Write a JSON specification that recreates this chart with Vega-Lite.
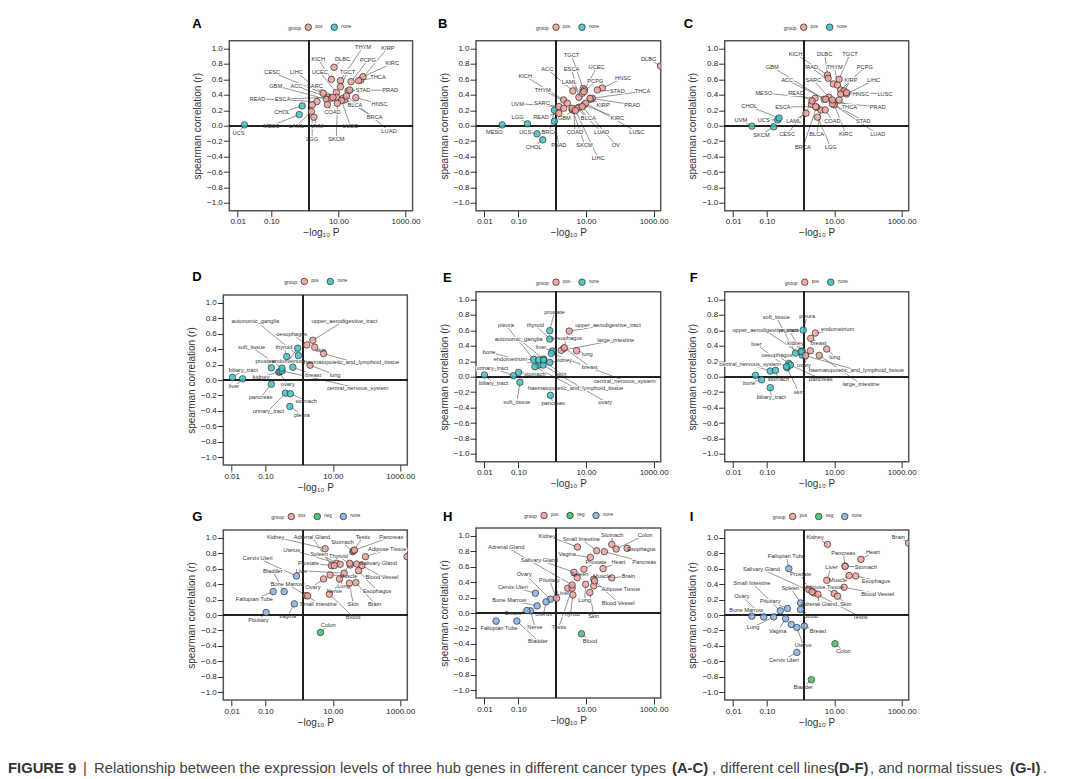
{
"$schema":"https://vega.github.io/schema/vega-lite/v6.json",
"background":"white",
"autosize":"none",
"padding":{"left":223.3,"top":40.7,"right":856.7,"bottom":738.3},
"datasets":{
"A":[
{"label":"UCS","x":0.0158,"r":0.01,"lx":0.0105,"ly":-0.09,"group":"none"},
{"label":"MESO","x":0.68,"r":0.144,"lx":0.102,"ly":0,"group":"none"},
{"label":"CHOL","x":0.83,"r":0.256,"lx":0.21,"ly":0.174,"group":"none"},
{"label":"KICH","x":6.2,"r":0.6,"lx":2.5,"ly":0.862,"group":"pos"},
{"label":"DLBC","x":7.4,"r":0.755,"lx":13.2,"ly":0.862,"group":"pos"},
{"label":"THYM","x":11.5,"r":0.583,"lx":54,"ly":1.02,"group":"pos"},
{"label":"KIRP","x":46,"r":0.59,"lx":299,"ly":1.01,"group":"pos"},
{"label":"PCPG","x":23.8,"r":0.57,"lx":76,"ly":0.85,"group":"pos"},
{"label":"KIRC","x":54,"r":0.634,"lx":400,"ly":0.806,"group":"pos"},
{"label":"TGCT","x":11.5,"r":0.505,"lx":18.5,"ly":0.69,"group":"pos"},
{"label":"UCEC","x":8.7,"r":0.428,"lx":2.8,"ly":0.695,"group":"pos"},
{"label":"THCA","x":40,"r":0.583,"lx":151,"ly":0.626,"group":"pos"},
{"label":"CESC","x":3.5,"r":0.42,"lx":0.107,"ly":0.69,"group":"pos"},
{"label":"LIHC","x":4.9,"r":0.368,"lx":0.56,"ly":0.69,"group":"pos"},
{"label":"GBM","x":4.4,"r":0.342,"lx":0.135,"ly":0.518,"group":"pos"},
{"label":"ACC","x":6.2,"r":0.355,"lx":0.56,"ly":0.51,"group":"pos"},
{"label":"SARC","x":8.7,"r":0.368,"lx":2,"ly":0.51,"group":"pos"},
{"label":"STAD","x":19.4,"r":0.45,"lx":54,"ly":0.458,"group":"pos"},
{"label":"PRAD","x":21.8,"r":0.462,"lx":349,"ly":0.458,"group":"pos"},
{"label":"READ","x":2.3,"r":0.312,"lx":0.039,"ly":0.35,"group":"pos"},
{"label":"ESCA","x":6.9,"r":0.368,"lx":0.22,"ly":0.346,"group":"pos"},
{"label":"HNSC","x":33,"r":0.363,"lx":169,"ly":0.282,"group":"pos"},
{"label":"BLCA","x":13.8,"r":0.355,"lx":31,"ly":0.27,"group":"pos"},
{"label":"BRCA","x":15.4,"r":0.333,"lx":120,"ly":0.11,"group":"pos"},
{"label":"LUAD","x":17.3,"r":0.385,"lx":320,"ly":-0.067,"group":"pos"},
{"label":"COAD","x":4.7,"r":0.273,"lx":6.6,"ly":0.174,"group":"pos"},
{"label":"LUSC","x":12.3,"r":0.325,"lx":22.7,"ly":0,"group":"pos"},
{"label":"SKCM","x":9.3,"r":0.29,"lx":8.7,"ly":-0.174,"group":"pos"},
{"label":"LGG","x":1.65,"r":0.269,"lx":1.65,"ly":-0.174,"group":"pos"},
{"label":"LAML","x":1.58,"r":0.183,"lx":0.56,"ly":0,"group":"pos"},
{"label":"UVM","x":1.85,"r":0.11,"lx":2.3,"ly":0,"group":"pos"}
],
"B":[
{"label":"MESO","x":0.0335,"r":0.01,"lx":0.0195,"ly":-0.084,"group":"none"},
{"label":"LGG","x":0.186,"r":0.024,"lx":0.095,"ly":0.118,"group":"none"},
{"label":"UCS","x":0.358,"r":-0.105,"lx":0.16,"ly":-0.08,"group":"none"},
{"label":"CHOL","x":0.53,"r":-0.183,"lx":0.285,"ly":-0.273,"group":"none"},
{"label":"PAAD","x":1.17,"r":0.058,"lx":1.58,"ly":-0.252,"group":"none"},
{"label":"BRCA","x":1.17,"r":0.2,"lx":0.83,"ly":-0.08,"group":"none"},
{"label":"DLBC","x":1600,"r":0.772,"lx":710,"ly":0.867,"group":"pos"},
{"label":"TGCT","x":8.3,"r":0.48,"lx":3.75,"ly":0.91,"group":"pos"},
{"label":"ACC","x":4.1,"r":0.45,"lx":0.72,"ly":0.733,"group":"pos"},
{"label":"ESCA","x":6.2,"r":0.368,"lx":3.75,"ly":0.733,"group":"pos"},
{"label":"UCEC","x":9.1,"r":0.462,"lx":20.7,"ly":0.755,"group":"pos"},
{"label":"LAML","x":7.8,"r":0.42,"lx":3.2,"ly":0.561,"group":"pos"},
{"label":"PCPG","x":8.7,"r":0.44,"lx":19,"ly":0.574,"group":"pos"},
{"label":"HNSC","x":30.5,"r":0.488,"lx":126,"ly":0.617,"group":"pos"},
{"label":"STAD","x":21.8,"r":0.462,"lx":85,"ly":0.445,"group":"pos"},
{"label":"THCA","x":15.4,"r":0.355,"lx":470,"ly":0.445,"group":"pos"},
{"label":"KICH","x":2.2,"r":0.333,"lx":0.16,"ly":0.639,"group":"pos"},
{"label":"THYM","x":2.8,"r":0.29,"lx":0.53,"ly":0.467,"group":"pos"},
{"label":"UVM","x":1.58,"r":0.247,"lx":0.095,"ly":0.286,"group":"pos"},
{"label":"SARC","x":2.2,"r":0.226,"lx":0.5,"ly":0.29,"group":"pos"},
{"label":"KIRP","x":13.8,"r":0.342,"lx":32,"ly":0.273,"group":"pos"},
{"label":"PRAD","x":13.2,"r":0.355,"lx":233,"ly":0.273,"group":"pos"},
{"label":"READ","x":1.58,"r":0.161,"lx":0.47,"ly":0.114,"group":"pos"},
{"label":"GBM","x":3.9,"r":0.204,"lx":2.3,"ly":0.105,"group":"pos"},
{"label":"KIRC","x":8.7,"r":0.269,"lx":85,"ly":0.101,"group":"pos"},
{"label":"LUSC","x":9.8,"r":0.29,"lx":320,"ly":-0.08,"group":"pos"},
{"label":"BLCA","x":6.2,"r":0.239,"lx":11.7,"ly":0.097,"group":"pos"},
{"label":"COAD","x":4.4,"r":0.204,"lx":4.7,"ly":-0.08,"group":"pos"},
{"label":"LUAD","x":5.5,"r":0.226,"lx":29,"ly":-0.08,"group":"pos"},
{"label":"OV","x":7.8,"r":0.247,"lx":76,"ly":-0.247,"group":"pos"},
{"label":"SKCM","x":3.9,"r":0.226,"lx":9.1,"ly":-0.247,"group":"pos"},
{"label":"LIHC","x":4.9,"r":0.196,"lx":23,"ly":-0.424,"group":"pos"}
],
"C":[
{"label":"UVM","x":0.036,"r":-0.006,"lx":0.017,"ly":0.075,"group":"none"},
{"label":"SKCM","x":0.16,"r":-0.015,"lx":0.069,"ly":-0.114,"group":"none"},
{"label":"UCS","x":0.21,"r":0.075,"lx":0.081,"ly":0.075,"group":"none"},
{"label":"CHOL","x":0.23,"r":0.1,"lx":0.03,"ly":0.252,"group":"none"},
{"label":"LAML","x":1.45,"r":0.161,"lx":0.63,"ly":0.067,"group":"pos"},
{"label":"CESC","x":2.1,"r":0.277,"lx":0.4,"ly":-0.11,"group":"pos"},
{"label":"BLCA","x":4,"r":0.204,"lx":3,"ly":-0.11,"group":"pos"},
{"label":"BRCA","x":3,"r":0.239,"lx":1.17,"ly":-0.282,"group":"pos"},
{"label":"LGG","x":3.2,"r":0.11,"lx":7.9,"ly":-0.282,"group":"pos"},
{"label":"KICH","x":6.3,"r":0.656,"lx":0.71,"ly":0.93,"group":"pos"},
{"label":"DLBC","x":6.6,"r":0.613,"lx":5.2,"ly":0.93,"group":"pos"},
{"label":"TGCT","x":13.9,"r":0.6,"lx":29.5,"ly":0.93,"group":"pos"},
{"label":"PAAD","x":9.4,"r":0.54,"lx":2,"ly":0.759,"group":"pos"},
{"label":"THYM","x":12.4,"r":0.527,"lx":10.3,"ly":0.759,"group":"pos"},
{"label":"PCPG","x":15.6,"r":0.462,"lx":81,"ly":0.759,"group":"pos"},
{"label":"GBM","x":5,"r":0.342,"lx":0.145,"ly":0.759,"group":"pos"},
{"label":"SARC","x":7,"r":0.368,"lx":2.4,"ly":0.587,"group":"pos"},
{"label":"ACC","x":5.6,"r":0.342,"lx":0.4,"ly":0.587,"group":"pos"},
{"label":"KIRP","x":19.6,"r":0.45,"lx":31,"ly":0.587,"group":"pos"},
{"label":"LIHC","x":23,"r":0.41,"lx":148,"ly":0.587,"group":"pos"},
{"label":"MESO","x":2.7,"r":0.355,"lx":0.081,"ly":0.424,"group":"pos"},
{"label":"READ","x":2.2,"r":0.32,"lx":0.74,"ly":0.419,"group":"pos"},
{"label":"HNSC","x":15.6,"r":0.41,"lx":62,"ly":0.415,"group":"pos"},
{"label":"LUSC","x":23,"r":0.428,"lx":320,"ly":0.415,"group":"pos"},
{"label":"ESCA","x":2.8,"r":0.247,"lx":0.3,"ly":0.243,"group":"pos"},
{"label":"PRAD","x":10,"r":0.3,"lx":195,"ly":0.243,"group":"pos"},
{"label":"THCA","x":13.9,"r":0.333,"lx":28,"ly":0.243,"group":"pos"},
{"label":"COAD","x":5.4,"r":0.204,"lx":8.8,"ly":0.067,"group":"pos"},
{"label":"STAD","x":10,"r":0.269,"lx":73,"ly":0.067,"group":"pos"},
{"label":"LUAD","x":8.8,"r":0.282,"lx":195,"ly":-0.11,"group":"pos"},
{"label":"KIRC","x":8.8,"r":0.333,"lx":22,"ly":-0.11,"group":"pos"}
],
"D":[
{"label":"biliary_tract","x":0.0105,"r":0.032,"lx":0.022,"ly":0.127,"group":"none"},
{"label":"liver","x":0.021,"r":0.015,"lx":0.0117,"ly":-0.084,"group":"none"},
{"label":"pancreas","x":0.15,"r":-0.054,"lx":0.072,"ly":-0.226,"group":"none"},
{"label":"urinary_tract","x":0.39,"r":-0.17,"lx":0.123,"ly":-0.398,"group":"none"},
{"label":"stomach","x":0.55,"r":-0.178,"lx":1.62,"ly":-0.269,"group":"none"},
{"label":"pleura","x":0.53,"r":-0.342,"lx":1.2,"ly":-0.449,"group":"none"},
{"label":"ovary","x":0.25,"r":0.101,"lx":0.46,"ly":-0.054,"group":"none"},
{"label":"kidney","x":0.27,"r":0.11,"lx":0.074,"ly":0.037,"group":"none"},
{"label":"central_nervous_system","x":0.31,"r":0.118,"lx":55,"ly":-0.105,"group":"none"},
{"label":"breast","x":0.65,"r":0.166,"lx":2.6,"ly":0.067,"group":"none"},
{"label":"prostate","x":0.15,"r":0.157,"lx":0.102,"ly":0.247,"group":"none"},
{"label":"soft_tissue","x":0.31,"r":0.153,"lx":0.039,"ly":0.424,"group":"none"},
{"label":"autonomic_ganglia","x":0.95,"r":0.316,"lx":0.05,"ly":0.768,"group":"none"},
{"label":"thyroid","x":0.43,"r":0.303,"lx":0.355,"ly":0.428,"group":"none"},
{"label":"endometrium","x":0.91,"r":0.411,"lx":0.48,"ly":0.247,"group":"none"},
{"label":"oesophagus","x":1.69,"r":0.454,"lx":0.6,"ly":0.6,"group":"pos"},
{"label":"upper_aerodigestive_tract","x":2.56,"r":0.514,"lx":22,"ly":0.768,"group":"pos"},
{"label":"haematopoietic_and_lymphoid_tissue","x":5.3,"r":0.342,"lx":36,"ly":0.239,"group":"pos"},
{"label":"skin","x":2.9,"r":0.424,"lx":4.4,"ly":0.39,"group":"pos"},
{"label":"lung","x":2.1,"r":0.191,"lx":11.7,"ly":0.067,"group":"pos"}
],
"E":[
{"label":"biliary_tract","x":0.01,"r":0.022,"lx":0.0186,"ly":-0.082,"group":"none"},
{"label":"urinary_tract","x":0.072,"r":0.013,"lx":0.017,"ly":0.116,"group":"none"},
{"label":"stomach","x":0.102,"r":0.056,"lx":0.31,"ly":0.03,"group":"none"},
{"label":"soft_tissue","x":0.112,"r":-0.073,"lx":0.091,"ly":-0.323,"group":"none"},
{"label":"pancreas","x":0.89,"r":-0.241,"lx":1.07,"ly":-0.34,"group":"none"},
{"label":"prostate","x":0.85,"r":0.595,"lx":1.17,"ly":0.836,"group":"none"},
{"label":"thyroid","x":0.85,"r":0.487,"lx":0.32,"ly":0.668,"group":"none"},
{"label":"upper_aerodigestive_tract","x":3.2,"r":0.59,"lx":45,"ly":0.668,"group":"pos"},
{"label":"pleura","x":0.285,"r":0.224,"lx":0.043,"ly":0.664,"group":"none"},
{"label":"autonomic_ganglia","x":0.56,"r":0.228,"lx":0.102,"ly":0.491,"group":"none"},
{"label":"oesophagus","x":2.2,"r":0.366,"lx":2.7,"ly":0.496,"group":"pos"},
{"label":"large_intestine","x":1.86,"r":0.34,"lx":76,"ly":0.474,"group":"pos"},
{"label":"liver","x":1.02,"r":0.332,"lx":0.47,"ly":0.388,"group":"none"},
{"label":"bone","x":0.4,"r":0.151,"lx":0.0138,"ly":0.319,"group":"none"},
{"label":"endometrium","x":0.4,"r":0.216,"lx":0.058,"ly":0.233,"group":"none"},
{"label":"lung","x":5.3,"r":0.336,"lx":11,"ly":0.297,"group":"pos"},
{"label":"breast","x":2.3,"r":0.375,"lx":12.9,"ly":0.129,"group":"pos"},
{"label":"kidney","x":0.85,"r":0.185,"lx":2.2,"ly":0.216,"group":"none"},
{"label":"central_nervous_system","x":0.95,"r":0.302,"lx":141,"ly":-0.052,"group":"none"},
{"label":"haematopoietic_and_lymphoid_tissue","x":0.31,"r":0.129,"lx":4.9,"ly":-0.147,"group":"none"},
{"label":"ovary","x":0.54,"r":0.151,"lx":37,"ly":-0.323,"group":"none"},
{"label":"skin","x":0.56,"r":0.216,"lx":1.86,"ly":0.03,"group":"none"}
],
"F":[
{"label":"","x":0.046,"r":0.017,"lx":0.046,"ly":0.017,"group":"none"},
{"label":"bone","x":0.07,"r":-0.039,"lx":0.03,"ly":-0.078,"group":"none"},
{"label":"central_nervous_system","x":0.126,"r":0.073,"lx":0.032,"ly":0.159,"group":"none"},
{"label":"biliary_tract","x":0.126,"r":-0.142,"lx":0.135,"ly":-0.259,"group":"none"},
{"label":"stomach","x":0.18,"r":0.082,"lx":0.22,"ly":-0.03,"group":"none"},
{"label":"liver","x":0.4,"r":0.116,"lx":0.049,"ly":0.418,"group":"none"},
{"label":"oesophagus","x":0.45,"r":0.172,"lx":0.2,"ly":0.28,"group":"none"},
{"label":"soft_tissue","x":0.71,"r":0.306,"lx":0.19,"ly":0.776,"group":"none"},
{"label":"pleura","x":1.2,"r":0.603,"lx":1.58,"ly":0.784,"group":"none"},
{"label":"upper_aerodigestive_tract","x":1.12,"r":0.28,"lx":0.09,"ly":0.599,"group":"none"},
{"label":"prostate","x":1.12,"r":0.332,"lx":0.45,"ly":0.599,"group":"none"},
{"label":"kidney","x":1.05,"r":0.323,"lx":0.71,"ly":0.431,"group":"none"},
{"label":"endometrium","x":2.75,"r":0.565,"lx":12.6,"ly":0.612,"group":"pos"},
{"label":"breast","x":2,"r":0.496,"lx":3.4,"ly":0.44,"group":"pos"},
{"label":"lung","x":6,"r":0.358,"lx":10.3,"ly":0.259,"group":"pos"},
{"label":"large_intestine","x":3.6,"r":0.276,"lx":62,"ly":-0.095,"group":"pos"},
{"label":"ovary","x":1.95,"r":0.336,"lx":1.26,"ly":0.151,"group":"pos"},
{"label":"haematopoietic_and_lymphoid_tissue","x":1.41,"r":0.272,"lx":45,"ly":0.086,"group":"pos"},
{"label":"pancreas","x":0.5,"r":0.151,"lx":4,"ly":-0.03,"group":"none"},
{"label":"skin","x":0.38,"r":0.129,"lx":0.89,"ly":-0.203,"group":"none"}
],
"G":[
{"label":"Pituitary","x":0.105,"r":0.032,"lx":0.062,"ly":-0.071,"group":"none"},
{"label":"Fallopian Tube","x":0.17,"r":0.303,"lx":0.047,"ly":0.204,"group":"none"},
{"label":"Bladder","x":0.36,"r":0.303,"lx":0.166,"ly":0.566,"group":"none"},
{"label":"Vagina","x":0.72,"r":0.144,"lx":0.45,"ly":-0.019,"group":"none"},
{"label":"Cervix Uteri","x":0.83,"r":0.505,"lx":0.059,"ly":0.738,"group":"none"},
{"label":"Bone Marrow","x":1.62,"r":0.252,"lx":0.45,"ly":0.398,"group":"pos"},
{"label":"Small Intestine","x":1.78,"r":0.247,"lx":3.7,"ly":0.148,"group":"pos"},
{"label":"Colon","x":4.3,"r":-0.226,"lx":7.3,"ly":-0.135,"group":"neg"},
{"label":"Blood","x":7.9,"r":0.269,"lx":40,"ly":-0.024,"group":"pos"},
{"label":"Kidney","x":5.9,"r":0.858,"lx":0.2,"ly":1.01,"group":"pos"},
{"label":"Adrenal Gland","x":9.1,"r":0.639,"lx":2.4,"ly":1.01,"group":"pos"},
{"label":"Stomach","x":39,"r":0.819,"lx":19.4,"ly":0.94,"group":"pos"},
{"label":"Testis","x":41,"r":0.832,"lx":78,"ly":1.01,"group":"pos"},
{"label":"Pancreas","x":44,"r":0.841,"lx":540,"ly":1.01,"group":"pos"},
{"label":"Adipose Tissue","x":93,"r":0.755,"lx":415,"ly":0.849,"group":"pos"},
{"label":"Salivary Gland","x":51,"r":0.66,"lx":224,"ly":0.669,"group":"pos"},
{"label":"","x":1590,"r":0.755,"lx":1590,"ly":0.755,"group":"pos"},
{"label":"Uterus","x":13,"r":0.669,"lx":0.6,"ly":0.845,"group":"pos"},
{"label":"Spleen","x":16.5,"r":0.656,"lx":3.9,"ly":0.785,"group":"pos"},
{"label":"Thyroid","x":33,"r":0.647,"lx":14.7,"ly":0.768,"group":"pos"},
{"label":"Prostate","x":11,"r":0.639,"lx":1.9,"ly":0.669,"group":"pos"},
{"label":"Blood Vessel","x":73,"r":0.639,"lx":287,"ly":0.497,"group":"pos"},
{"label":"Liver","x":21.7,"r":0.54,"lx":1.2,"ly":0.574,"group":"pos"},
{"label":"Esophagus","x":58,"r":0.574,"lx":206,"ly":0.316,"group":"pos"},
{"label":"Ovary","x":5.3,"r":0.467,"lx":2.56,"ly":0.368,"group":"pos"},
{"label":"Lung","x":15.8,"r":0.467,"lx":20.7,"ly":0.376,"group":"pos"},
{"label":"Muscle","x":8.3,"r":0.518,"lx":29,"ly":0.505,"group":"pos"},
{"label":"Nerve","x":31.6,"r":0.669,"lx":11,"ly":0.316,"group":"pos"},
{"label":"Skin","x":31,"r":0.411,"lx":40,"ly":0.148,"group":"pos"},
{"label":"Brain","x":48,"r":0.419,"lx":173,"ly":0.148,"group":"pos"}
],
"H":[
{"label":"Fallopian Tube","x":0.022,"r":-0.105,"lx":0.027,"ly":-0.196,"group":"none"},
{"label":"Bladder","x":0.091,"r":-0.105,"lx":0.38,"ly":-0.359,"group":"none"},
{"label":"Nerve","x":0.23,"r":0.028,"lx":0.31,"ly":-0.183,"group":"none"},
{"label":"Ovary","x":0.89,"r":0.178,"lx":0.15,"ly":0.51,"group":"none"},
{"label":"Cervix Uteri","x":0.32,"r":0.256,"lx":0.069,"ly":0.338,"group":"none"},
{"label":"Bone Marrow","x":0.36,"r":0.092,"lx":0.054,"ly":0.17,"group":"none"},
{"label":"Breast","x":0.18,"r":0.032,"lx":0.069,"ly":-0.002,"group":"none"},
{"label":"Uterus","x":0.66,"r":0.144,"lx":0.56,"ly":-0.015,"group":"none"},
{"label":"Pituitary","x":1.35,"r":0.191,"lx":0.83,"ly":0.428,"group":"pos"},
{"label":"Liver","x":2.9,"r":0.32,"lx":2.1,"ly":0.256,"group":"pos"},
{"label":"Thyroid","x":4.1,"r":0.234,"lx":3.5,"ly":-0.011,"group":"pos"},
{"label":"Testis","x":3.9,"r":0.32,"lx":1.58,"ly":-0.183,"group":"pos"},
{"label":"Blood","x":7.4,"r":-0.269,"lx":13.1,"ly":-0.359,"group":"neg"},
{"label":"Kidney","x":5.6,"r":0.854,"lx":0.71,"ly":1,"group":"pos"},
{"label":"Small Intestine","x":20.7,"r":0.806,"lx":7.3,"ly":0.953,"group":"pos"},
{"label":"Stomach","x":58,"r":0.888,"lx":60,"ly":1.01,"group":"pos"},
{"label":"Colon","x":78,"r":0.828,"lx":560,"ly":1.01,"group":"pos"},
{"label":"Esophagus","x":165,"r":0.837,"lx":436,"ly":0.828,"group":"pos"},
{"label":"Pancreas","x":35,"r":0.794,"lx":527,"ly":0.656,"group":"pos"},
{"label":"Adrenal Gland","x":3.9,"r":0.363,"lx":0.044,"ly":0.854,"group":"pos"},
{"label":"Vagina","x":13.5,"r":0.72,"lx":2.8,"ly":0.763,"group":"pos"},
{"label":"Salivary Gland","x":4.4,"r":0.527,"lx":0.42,"ly":0.686,"group":"pos"},
{"label":"Prostate","x":8.7,"r":0.566,"lx":20,"ly":0.656,"group":"pos"},
{"label":"Heart","x":32,"r":0.574,"lx":91,"ly":0.656,"group":"pos"},
{"label":"Muscle","x":17,"r":0.437,"lx":30,"ly":0.48,"group":"pos"},
{"label":"Brain","x":58,"r":0.454,"lx":180,"ly":0.48,"group":"pos"},
{"label":"Spleen","x":5.5,"r":0.458,"lx":6.5,"ly":0.505,"group":"pos"},
{"label":"Adipose Tissue","x":17,"r":0.351,"lx":107,"ly":0.308,"group":"pos"},
{"label":"Lung","x":9.8,"r":0.372,"lx":9.1,"ly":0.17,"group":"pos"},
{"label":"Blood Vessel","x":18,"r":0.415,"lx":89,"ly":0.135,"group":"pos"},
{"label":"Skin","x":13,"r":0.265,"lx":17,"ly":-0.037,"group":"pos"}
],
"I":[
{"label":"Brain","x":1600,"r":0.931,"lx":800,"ly":1.01,"group":"pos"},
{"label":"Kidney","x":6.3,"r":0.914,"lx":2.7,"ly":1.01,"group":"pos"},
{"label":"Heart","x":62,"r":0.72,"lx":141,"ly":0.811,"group":"pos"},
{"label":"Pancreas","x":21,"r":0.634,"lx":18.6,"ly":0.802,"group":"pos"},
{"label":"Stomach","x":21,"r":0.63,"lx":87,"ly":0.622,"group":"pos"},
{"label":"Liver","x":6,"r":0.449,"lx":8.3,"ly":0.626,"group":"pos"},
{"label":"Muscle","x":27.6,"r":0.51,"lx":13,"ly":0.449,"group":"pos"},
{"label":"Esophagus","x":43.6,"r":0.505,"lx":174,"ly":0.445,"group":"pos"},
{"label":"Blood Vessel","x":19.6,"r":0.359,"lx":195,"ly":0.273,"group":"pos"},
{"label":"Adipose Tissue","x":10,"r":0.277,"lx":5,"ly":0.359,"group":"pos"},
{"label":"Prostate","x":1.77,"r":0.329,"lx":1,"ly":0.527,"group":"pos"},
{"label":"Fallopian Tube","x":0.45,"r":0.6,"lx":0.38,"ly":0.768,"group":"none"},
{"label":"Salivary Gland","x":2.5,"r":0.286,"lx":0.069,"ly":0.596,"group":"pos"},
{"label":"Spleen","x":1,"r":0.157,"lx":0.5,"ly":0.355,"group":"none"},
{"label":"Small Intestine","x":0.25,"r":0.054,"lx":0.036,"ly":0.419,"group":"none"},
{"label":"Ovary","x":0.081,"r":-0.024,"lx":0.018,"ly":0.243,"group":"none"},
{"label":"Pituitary","x":0.41,"r":0.084,"lx":0.126,"ly":0.178,"group":"none"},
{"label":"Bone Marrow","x":0.036,"r":-0.015,"lx":0.0245,"ly":0.071,"group":"none"},
{"label":"Lung","x":0.16,"r":-0.024,"lx":0.039,"ly":-0.157,"group":"none"},
{"label":"Vagina","x":0.36,"r":-0.049,"lx":0.21,"ly":-0.213,"group":"none"},
{"label":"Blood","x":1,"r":0.071,"lx":2,"ly":-0.015,"group":"none"},
{"label":"Adrenal Gland","x":3.3,"r":0.269,"lx":3.5,"ly":0.148,"group":"pos"},
{"label":"Skin","x":12.6,"r":0.243,"lx":22,"ly":0.148,"group":"pos"},
{"label":"Testis","x":2.2,"r":0.3,"lx":59,"ly":-0.024,"group":"pos"},
{"label":"Breast","x":1.3,"r":-0.144,"lx":3.3,"ly":-0.213,"group":"none"},
{"label":"Uterus","x":0.78,"r":-0.161,"lx":1.2,"ly":-0.389,"group":"none"},
{"label":"","x":0.53,"r":-0.123,"lx":0.53,"ly":-0.123,"group":"none"},
{"label":"Cervix Uteri","x":0.78,"r":-0.484,"lx":0.32,"ly":-0.578,"group":"none"},
{"label":"Colon","x":10.5,"r":-0.372,"lx":18.6,"ly":-0.471,"group":"neg"},
{"label":"Bladder","x":2.1,"r":-0.837,"lx":1.2,"ly":-0.935,"group":"neg"}
],
"caption":[
{"text":"FIGURE 9","start":8,"bold":true},
{"text":"|","start":83,"bold":false},
{"text":"Relationship between the expression levels of three hub genes in different cancer types","start":94,"bold":false},
{"text":"(A-C)","start":672,"bold":true},
{"text":", different cell lines","start":712,"bold":false},
{"text":"(D-F)","start":834,"bold":true},
{"text":", and normal tissues","start":870,"bold":false},
{"text":"(G-I)","start":1010,"bold":true},
{"text":".","start":1043,"bold":false}
]
},
"vconcat":[
{"bounds":"flush","spacing":252.7,"resolve":{"scale":{"color":"independent"},"legend":{"color":"independent"}},"hconcat":[
{"bounds":"flush","spacing":254.3,"resolve":{"scale":{"color":"independent"},"legend":{"color":"independent"}},"vconcat":[
{"bounds":"flush","spacing":0,"resolve":{"scale":{"color":"independent"},"legend":{"color":"independent"}},"hconcat":[
{"width":5.4,"height":170,"data":{"values":[]},"mark":"point"},
{"title":{"text":"A","dx":-37,"offset":-8},"data":{"name":"A"},"width":183.3,"height":170,
"encoding":{"x":{"field":"x","type":"quantitative","scale":{"type":"log","domain":[0.00562,1620]},"axis":{"values":[0.01,0.1,10,1000],"format":".2f","title":"−log₁₀ P"}},"y":{"field":"r","type":"quantitative","scale":{"domain":[-1.1,1.1]},"axis":{"values":[-1,-0.8,-0.6,-0.4,-0.2,0,0.2,0.4,0.6,0.8,1],"format":".1f","title":"spearman correlation (r)"}}},
"layer":[
{"mark":{"type":"rule","stroke":"#666","strokeWidth":0.7},"encoding":{"x2":{"field":"lx"},"y2":{"field":"ly"}}},
{"mark":{"type":"text","stroke":"white","strokeWidth":2,"fontSize":5.7},"encoding":{"x":{"field":"lx","type":"quantitative","scale":{"type":"log","domain":[0.00562,1620]}},"y":{"field":"ly","type":"quantitative","scale":{"domain":[-1.1,1.1]}},"text":{"field":"label"}}},
{"mark":{"type":"rule","stroke":"#222","strokeWidth":1.3},"encoding":{"x":null,"y":{"datum":0,"type":"quantitative","scale":{"domain":[-1.1,1.1]}}}},
{"mark":{"type":"rule","stroke":"#222","strokeWidth":1.3},"encoding":{"y":null,"x":{"datum":1.3,"type":"quantitative","scale":{"type":"log","domain":[0.00562,1620]}}}},
{"mark":{"type":"point","filled":true,"size":42,"stroke":"#333","strokeWidth":0.9,"opacity":0.85,"clip":true},"encoding":{"color":{"field":"group","type":"nominal","scale":{"domain":["pos","none"],"range":["#f4a09a","#3fc4c8"]},"legend":{"orient":"none","legendX":59,"legendY":-18,"title":"group"}}}},
{"mark":{"type":"text","fontSize":5.7,"color":"#333"},"encoding":{"x":{"field":"lx","type":"quantitative","scale":{"type":"log","domain":[0.00562,1620]}},"y":{"field":"ly","type":"quantitative","scale":{"domain":[-1.1,1.1]}},"text":{"field":"label"}}}
]}
]},
{"bounds":"flush","spacing":65,"resolve":{"scale":{"color":"independent"},"legend":{"color":"independent"}},"vconcat":[
{"title":{"text":"D","dx":-31,"offset":-7},"data":{"name":"D"},"width":184,"height":170,
"encoding":{"x":{"field":"x","type":"quantitative","scale":{"type":"log","domain":[0.00562,1620]},"axis":{"values":[0.01,0.1,10,1000],"format":".2f","title":"−log₁₀ P"}},"y":{"field":"r","type":"quantitative","scale":{"domain":[-1.1,1.1]},"axis":{"values":[-1,-0.8,-0.6,-0.4,-0.2,0,0.2,0.4,0.6,0.8,1],"format":".1f","title":"spearman correlation (r)"}}},
"layer":[
{"mark":{"type":"rule","stroke":"#666","strokeWidth":0.7},"encoding":{"x2":{"field":"lx"},"y2":{"field":"ly"}}},
{"mark":{"type":"text","stroke":"white","strokeWidth":2,"fontSize":5.7},"encoding":{"x":{"field":"lx","type":"quantitative","scale":{"type":"log","domain":[0.00562,1620]}},"y":{"field":"ly","type":"quantitative","scale":{"domain":[-1.1,1.1]}},"text":{"field":"label"}}},
{"mark":{"type":"rule","stroke":"#222","strokeWidth":1.3},"encoding":{"x":null,"y":{"datum":0,"type":"quantitative","scale":{"domain":[-1.1,1.1]}}}},
{"mark":{"type":"rule","stroke":"#222","strokeWidth":1.3},"encoding":{"y":null,"x":{"datum":1.3,"type":"quantitative","scale":{"type":"log","domain":[0.00562,1620]}}}},
{"mark":{"type":"point","filled":true,"size":42,"stroke":"#333","strokeWidth":0.9,"opacity":0.85,"clip":true},"encoding":{"color":{"field":"group","type":"nominal","scale":{"domain":["pos","none"],"range":["#f4a09a","#3fc4c8"]},"legend":{"orient":"none","legendX":61,"legendY":-18,"title":"group"}}}},
{"mark":{"type":"text","fontSize":5.7,"color":"#333"},"encoding":{"x":{"field":"lx","type":"quantitative","scale":{"type":"log","domain":[0.00562,1620]}},"y":{"field":"ly","type":"quantitative","scale":{"domain":[-1.1,1.1]}},"text":{"field":"label"}}}
]},
{"title":{"text":"G","dx":-31,"offset":-12},"data":{"name":"G"},"width":184,"height":170,
"encoding":{"x":{"field":"x","type":"quantitative","scale":{"type":"log","domain":[0.00562,1620]},"axis":{"values":[0.01,0.1,10,1000],"format":".2f","title":"−log₁₀ P"}},"y":{"field":"r","type":"quantitative","scale":{"domain":[-1.1,1.1]},"axis":{"values":[-1,-0.8,-0.6,-0.4,-0.2,0,0.2,0.4,0.6,0.8,1],"format":".1f","title":"spearman correlation (r)"}}},
"layer":[
{"mark":{"type":"rule","stroke":"#666","strokeWidth":0.7},"encoding":{"x2":{"field":"lx"},"y2":{"field":"ly"}}},
{"mark":{"type":"text","stroke":"white","strokeWidth":2,"fontSize":5.7},"encoding":{"x":{"field":"lx","type":"quantitative","scale":{"type":"log","domain":[0.00562,1620]}},"y":{"field":"ly","type":"quantitative","scale":{"domain":[-1.1,1.1]}},"text":{"field":"label"}}},
{"mark":{"type":"rule","stroke":"#222","strokeWidth":1.3},"encoding":{"x":null,"y":{"datum":0,"type":"quantitative","scale":{"domain":[-1.1,1.1]}}}},
{"mark":{"type":"rule","stroke":"#222","strokeWidth":1.3},"encoding":{"y":null,"x":{"datum":1.3,"type":"quantitative","scale":{"type":"log","domain":[0.00562,1620]}}}},
{"mark":{"type":"point","filled":true,"size":42,"stroke":"#333","strokeWidth":0.9,"opacity":0.85,"clip":true},"encoding":{"color":{"field":"group","type":"nominal","scale":{"domain":["pos","neg","none"],"range":["#f4a09a","#3fc26f","#86b2ec"]},"legend":{"orient":"none","legendX":48,"legendY":-18,"title":"group"}}}},
{"mark":{"type":"text","fontSize":5.7,"color":"#333"},"encoding":{"x":{"field":"lx","type":"quantitative","scale":{"type":"log","domain":[0.00562,1620]}},"y":{"field":"ly","type":"quantitative","scale":{"domain":[-1.1,1.1]}},"text":{"field":"label"}}}
]}
]}
]},
{"bounds":"flush","spacing":248.7,"resolve":{"scale":{"color":"independent"},"legend":{"color":"independent"}},"hconcat":[
{"bounds":"flush","spacing":81,"resolve":{"scale":{"color":"independent"},"legend":{"color":"independent"}},"vconcat":[
{"title":{"text":"B","dx":-38,"offset":-8},"data":{"name":"B"},"width":184.7,"height":170,
"encoding":{"x":{"field":"x","type":"quantitative","scale":{"type":"log","domain":[0.00562,1620]},"axis":{"values":[0.01,0.1,10,1000],"format":".2f","title":"−log₁₀ P"}},"y":{"field":"r","type":"quantitative","scale":{"domain":[-1.1,1.1]},"axis":{"values":[-1,-0.8,-0.6,-0.4,-0.2,0,0.2,0.4,0.6,0.8,1],"format":".1f","title":"spearman correlation (r)"}}},
"layer":[
{"mark":{"type":"rule","stroke":"#666","strokeWidth":0.7},"encoding":{"x2":{"field":"lx"},"y2":{"field":"ly"}}},
{"mark":{"type":"text","stroke":"white","strokeWidth":2,"fontSize":5.7},"encoding":{"x":{"field":"lx","type":"quantitative","scale":{"type":"log","domain":[0.00562,1620]}},"y":{"field":"ly","type":"quantitative","scale":{"domain":[-1.1,1.1]}},"text":{"field":"label"}}},
{"mark":{"type":"rule","stroke":"#222","strokeWidth":1.3},"encoding":{"x":null,"y":{"datum":0,"type":"quantitative","scale":{"domain":[-1.1,1.1]}}}},
{"mark":{"type":"rule","stroke":"#222","strokeWidth":1.3},"encoding":{"y":null,"x":{"datum":1.3,"type":"quantitative","scale":{"type":"log","domain":[0.00562,1620]}}}},
{"mark":{"type":"point","filled":true,"size":42,"stroke":"#333","strokeWidth":0.9,"opacity":0.85,"clip":true},"encoding":{"color":{"field":"group","type":"nominal","scale":{"domain":["pos","none"],"range":["#f4a09a","#3fc4c8"]},"legend":{"orient":"none","legendX":60,"legendY":-18,"title":"group"}}}},
{"mark":{"type":"text","fontSize":5.7,"color":"#333"},"encoding":{"x":{"field":"lx","type":"quantitative","scale":{"type":"log","domain":[0.00562,1620]}},"y":{"field":"ly","type":"quantitative","scale":{"domain":[-1.1,1.1]}},"text":{"field":"label"}}}
]},
{"bounds":"flush","spacing":66.3,"resolve":{"scale":{"color":"independent"},"legend":{"color":"independent"}},"vconcat":[
{"title":{"text":"E","dx":-33,"offset":-7},"data":{"name":"E"},"width":184.7,"height":170,
"encoding":{"x":{"field":"x","type":"quantitative","scale":{"type":"log","domain":[0.00562,1620]},"axis":{"values":[0.01,0.1,10,1000],"format":".2f","title":"−log₁₀ P"}},"y":{"field":"r","type":"quantitative","scale":{"domain":[-1.1,1.1]},"axis":{"values":[-1,-0.8,-0.6,-0.4,-0.2,0,0.2,0.4,0.6,0.8,1],"format":".1f","title":"spearman correlation (r)"}}},
"layer":[
{"mark":{"type":"rule","stroke":"#666","strokeWidth":0.7},"encoding":{"x2":{"field":"lx"},"y2":{"field":"ly"}}},
{"mark":{"type":"text","stroke":"white","strokeWidth":2,"fontSize":5.7},"encoding":{"x":{"field":"lx","type":"quantitative","scale":{"type":"log","domain":[0.00562,1620]}},"y":{"field":"ly","type":"quantitative","scale":{"domain":[-1.1,1.1]}},"text":{"field":"label"}}},
{"mark":{"type":"rule","stroke":"#222","strokeWidth":1.3},"encoding":{"x":null,"y":{"datum":0,"type":"quantitative","scale":{"domain":[-1.1,1.1]}}}},
{"mark":{"type":"rule","stroke":"#222","strokeWidth":1.3},"encoding":{"y":null,"x":{"datum":1.3,"type":"quantitative","scale":{"type":"log","domain":[0.00562,1620]}}}},
{"mark":{"type":"point","filled":true,"size":42,"stroke":"#333","strokeWidth":0.9,"opacity":0.85,"clip":true},"encoding":{"color":{"field":"group","type":"nominal","scale":{"domain":["pos","none"],"range":["#f4a09a","#3fc4c8"]},"legend":{"orient":"none","legendX":60,"legendY":-14,"title":"group"}}}},
{"mark":{"type":"text","fontSize":5.7,"color":"#333"},"encoding":{"x":{"field":"lx","type":"quantitative","scale":{"type":"log","domain":[0.00562,1620]}},"y":{"field":"ly","type":"quantitative","scale":{"domain":[-1.1,1.1]}},"text":{"field":"label"}}}
]},
{"title":{"text":"H","dx":-33,"offset":-13},"data":{"name":"H"},"width":184.7,"height":170,
"encoding":{"x":{"field":"x","type":"quantitative","scale":{"type":"log","domain":[0.00562,1620]},"axis":{"values":[0.01,0.1,10,1000],"format":".2f","title":"−log₁₀ P"}},"y":{"field":"r","type":"quantitative","scale":{"domain":[-1.1,1.1]},"axis":{"values":[-1,-0.8,-0.6,-0.4,-0.2,0,0.2,0.4,0.6,0.8,1],"format":".1f","title":"spearman correlation (r)"}}},
"layer":[
{"mark":{"type":"rule","stroke":"#666","strokeWidth":0.7},"encoding":{"x2":{"field":"lx"},"y2":{"field":"ly"}}},
{"mark":{"type":"text","stroke":"white","strokeWidth":2,"fontSize":5.7},"encoding":{"x":{"field":"lx","type":"quantitative","scale":{"type":"log","domain":[0.00562,1620]}},"y":{"field":"ly","type":"quantitative","scale":{"domain":[-1.1,1.1]}},"text":{"field":"label"}}},
{"mark":{"type":"rule","stroke":"#222","strokeWidth":1.3},"encoding":{"x":null,"y":{"datum":0,"type":"quantitative","scale":{"domain":[-1.1,1.1]}}}},
{"mark":{"type":"rule","stroke":"#222","strokeWidth":1.3},"encoding":{"y":null,"x":{"datum":1.3,"type":"quantitative","scale":{"type":"log","domain":[0.00562,1620]}}}},
{"mark":{"type":"point","filled":true,"size":42,"stroke":"#333","strokeWidth":0.9,"opacity":0.85,"clip":true},"encoding":{"color":{"field":"group","type":"nominal","scale":{"domain":["pos","neg","none"],"range":["#f4a09a","#3fc26f","#86b2ec"]},"legend":{"orient":"none","legendX":48,"legendY":-17,"title":"group"}}}},
{"mark":{"type":"text","fontSize":5.7,"color":"#333"},"encoding":{"x":{"field":"lx","type":"quantitative","scale":{"type":"log","domain":[0.00562,1620]}},"y":{"field":"ly","type":"quantitative","scale":{"domain":[-1.1,1.1]}},"text":{"field":"label"}}}
]}
]}
]},
{"bounds":"flush","spacing":81,"resolve":{"scale":{"color":"independent"},"legend":{"color":"independent"}},"vconcat":[
{"title":{"text":"C","dx":-41,"offset":-8},"data":{"name":"C"},"width":184,"height":170,
"encoding":{"x":{"field":"x","type":"quantitative","scale":{"type":"log","domain":[0.00562,1620]},"axis":{"values":[0.01,0.1,10,1000],"format":".2f","title":"−log₁₀ P"}},"y":{"field":"r","type":"quantitative","scale":{"domain":[-1.1,1.1]},"axis":{"values":[-1,-0.8,-0.6,-0.4,-0.2,0,0.2,0.4,0.6,0.8,1],"format":".1f","title":"spearman correlation (r)"}}},
"layer":[
{"mark":{"type":"rule","stroke":"#666","strokeWidth":0.7},"encoding":{"x2":{"field":"lx"},"y2":{"field":"ly"}}},
{"mark":{"type":"text","stroke":"white","strokeWidth":2,"fontSize":5.7},"encoding":{"x":{"field":"lx","type":"quantitative","scale":{"type":"log","domain":[0.00562,1620]}},"y":{"field":"ly","type":"quantitative","scale":{"domain":[-1.1,1.1]}},"text":{"field":"label"}}},
{"mark":{"type":"rule","stroke":"#222","strokeWidth":1.3},"encoding":{"x":null,"y":{"datum":0,"type":"quantitative","scale":{"domain":[-1.1,1.1]}}}},
{"mark":{"type":"rule","stroke":"#222","strokeWidth":1.3},"encoding":{"y":null,"x":{"datum":1.3,"type":"quantitative","scale":{"type":"log","domain":[0.00562,1620]}}}},
{"mark":{"type":"point","filled":true,"size":42,"stroke":"#333","strokeWidth":0.9,"opacity":0.85,"clip":true},"encoding":{"color":{"field":"group","type":"nominal","scale":{"domain":["pos","none"],"range":["#f4a09a","#3fc4c8"]},"legend":{"orient":"none","legendX":59,"legendY":-18,"title":"group"}}}},
{"mark":{"type":"text","fontSize":5.7,"color":"#333"},"encoding":{"x":{"field":"lx","type":"quantitative","scale":{"type":"log","domain":[0.00562,1620]}},"y":{"field":"ly","type":"quantitative","scale":{"domain":[-1.1,1.1]}},"text":{"field":"label"}}}
]},
{"bounds":"flush","spacing":68.3,"resolve":{"scale":{"color":"independent"},"legend":{"color":"independent"}},"vconcat":[
{"title":{"text":"F","dx":-35,"offset":-7},"data":{"name":"F"},"width":184,"height":170,
"encoding":{"x":{"field":"x","type":"quantitative","scale":{"type":"log","domain":[0.00562,1620]},"axis":{"values":[0.01,0.1,10,1000],"format":".2f","title":"−log₁₀ P"}},"y":{"field":"r","type":"quantitative","scale":{"domain":[-1.1,1.1]},"axis":{"values":[-1,-0.8,-0.6,-0.4,-0.2,0,0.2,0.4,0.6,0.8,1],"format":".1f","title":"spearman correlation (r)"}}},
"layer":[
{"mark":{"type":"rule","stroke":"#666","strokeWidth":0.7},"encoding":{"x2":{"field":"lx"},"y2":{"field":"ly"}}},
{"mark":{"type":"text","stroke":"white","strokeWidth":2,"fontSize":5.7},"encoding":{"x":{"field":"lx","type":"quantitative","scale":{"type":"log","domain":[0.00562,1620]}},"y":{"field":"ly","type":"quantitative","scale":{"domain":[-1.1,1.1]}},"text":{"field":"label"}}},
{"mark":{"type":"rule","stroke":"#222","strokeWidth":1.3},"encoding":{"x":null,"y":{"datum":0,"type":"quantitative","scale":{"domain":[-1.1,1.1]}}}},
{"mark":{"type":"rule","stroke":"#222","strokeWidth":1.3},"encoding":{"y":null,"x":{"datum":1.3,"type":"quantitative","scale":{"type":"log","domain":[0.00562,1620]}}}},
{"mark":{"type":"point","filled":true,"size":42,"stroke":"#333","strokeWidth":0.9,"opacity":0.85,"clip":true},"encoding":{"color":{"field":"group","type":"nominal","scale":{"domain":["pos","none"],"range":["#f4a09a","#3fc4c8"]},"legend":{"orient":"none","legendX":60,"legendY":-14,"title":"group"}}}},
{"mark":{"type":"text","fontSize":5.7,"color":"#333"},"encoding":{"x":{"field":"lx","type":"quantitative","scale":{"type":"log","domain":[0.00562,1620]}},"y":{"field":"ly","type":"quantitative","scale":{"domain":[-1.1,1.1]}},"text":{"field":"label"}}}
]},
{"title":{"text":"I","dx":-35,"offset":-12},"data":{"name":"I"},"width":184,"height":170,
"encoding":{"x":{"field":"x","type":"quantitative","scale":{"type":"log","domain":[0.00562,1620]},"axis":{"values":[0.01,0.1,10,1000],"format":".2f","title":"−log₁₀ P"}},"y":{"field":"r","type":"quantitative","scale":{"domain":[-1.1,1.1]},"axis":{"values":[-1,-0.8,-0.6,-0.4,-0.2,0,0.2,0.4,0.6,0.8,1],"format":".1f","title":"spearman correlation (r)"}}},
"layer":[
{"mark":{"type":"rule","stroke":"#666","strokeWidth":0.7},"encoding":{"x2":{"field":"lx"},"y2":{"field":"ly"}}},
{"mark":{"type":"text","stroke":"white","strokeWidth":2,"fontSize":5.7},"encoding":{"x":{"field":"lx","type":"quantitative","scale":{"type":"log","domain":[0.00562,1620]}},"y":{"field":"ly","type":"quantitative","scale":{"domain":[-1.1,1.1]}},"text":{"field":"label"}}},
{"mark":{"type":"rule","stroke":"#222","strokeWidth":1.3},"encoding":{"x":null,"y":{"datum":0,"type":"quantitative","scale":{"domain":[-1.1,1.1]}}}},
{"mark":{"type":"rule","stroke":"#222","strokeWidth":1.3},"encoding":{"y":null,"x":{"datum":1.3,"type":"quantitative","scale":{"type":"log","domain":[0.00562,1620]}}}},
{"mark":{"type":"point","filled":true,"size":42,"stroke":"#333","strokeWidth":0.9,"opacity":0.85,"clip":true},"encoding":{"color":{"field":"group","type":"nominal","scale":{"domain":["pos","neg","none"],"range":["#f4a09a","#3fc26f","#86b2ec"]},"legend":{"orient":"none","legendX":48,"legendY":-18,"title":"group"}}}},
{"mark":{"type":"text","fontSize":5.7,"color":"#333"},"encoding":{"x":{"field":"lx","type":"quantitative","scale":{"type":"log","domain":[0.00562,1620]}},"y":{"field":"ly","type":"quantitative","scale":{"domain":[-1.1,1.1]}},"text":{"field":"label"}}}
]}
]}
]}
]}
]},
{"data":{"name":"caption"},"width":1080,"height":10,"view":{"stroke":null},
"encoding":{"x":{"field":"start","type":"quantitative","scale":{"domain":[223.3,1303.3]},"axis":null},"text":{"field":"text"}},
"layer":[
{"transform":[{"filter":"datum.bold"}],"mark":{"type":"text","align":"left","fontSize":14.8,"fontWeight":"bold","color":"#333"}},
{"transform":[{"filter":"!datum.bold"}],"mark":{"type":"text","align":"left","fontSize":14.8,"color":"#444"}}
]}
],
"bounds":"flush",
"spacing":723.3,
"resolve":{"scale":{"color":"independent"},"legend":{"color":"independent"}},
"config":{
"font":"Liberation Sans",
"view":{"stroke":"#555","strokeWidth":1.5},
"title":{"fontSize":13,"fontWeight":"bold","color":"#000","anchor":"start","frame":"group"},
"axis":{"grid":false,"domain":false,"tickColor":"#333","tickSize":6,"labelColor":"#222","labelFontSize":8,"labelPadding":1,"titleColor":"#333","titleFontSize":10,"titleFontWeight":"normal"},
"axisY":{"titlePadding":4},
"axisX":{"titlePadding":2},
"legend":{"direction":"horizontal","titleOrient":"left","titleFontSize":5,"titleFontWeight":"normal","titleColor":"#333","titlePadding":3,"labelFontSize":4.5,"labelColor":"#333","labelOffset":3,"columnPadding":5,"symbolSize":42,"symbolStrokeColor":"#333","symbolStrokeWidth":0.9,"symbolOpacity":0.9}
}
}
